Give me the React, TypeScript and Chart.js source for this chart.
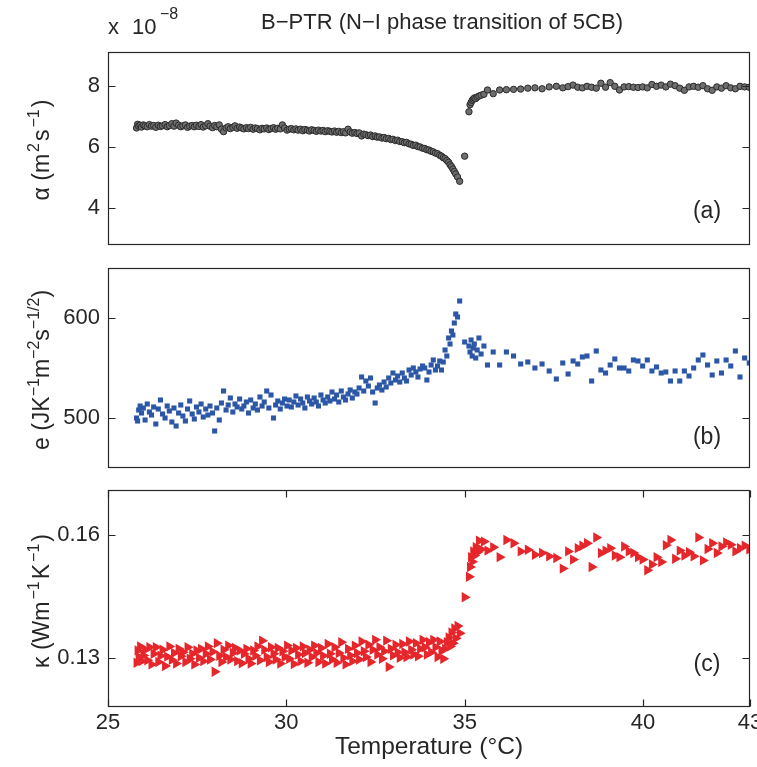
import React, { useEffect, useRef } from "react";
import { Chart, registerables } from "chart.js";
Chart.register(...registerables);

// ---------------- DATA ----------------
const T_NEM = [
  25.80, 25.83, 25.86, 25.90, 25.94, 25.99, 26.04, 26.10, 26.16, 26.22,
  26.28, 26.34, 26.41, 26.47, 26.53, 26.60, 26.66, 26.72, 26.79, 26.85,
  26.91, 26.98, 27.04, 27.10, 27.17, 27.23, 27.29, 27.36, 27.42, 27.48,
  27.55, 27.61, 27.67, 27.74, 27.80, 27.86, 27.93, 27.99, 28.05, 28.12,
  28.18, 28.24, 28.31, 28.37, 28.43, 28.50, 28.56, 28.62, 28.69, 28.75,
  28.81, 28.88, 28.94, 29.00, 29.07, 29.13, 29.19, 29.26, 29.32, 29.38,
  29.45, 29.51, 29.57, 29.64, 29.70, 29.76, 29.83, 29.89, 29.95, 30.02,
  30.08, 30.14, 30.21, 30.27, 30.33, 30.40, 30.46, 30.52, 30.59, 30.65,
  30.71, 30.78, 30.84, 30.90, 30.97, 31.03, 31.09, 31.16, 31.22, 31.28,
  31.35, 31.41, 31.47, 31.54, 31.60, 31.66, 31.73, 31.79, 31.85, 31.92,
  31.98, 32.04, 32.11, 32.17, 32.23, 32.30, 32.36, 32.42, 32.49, 32.55,
  32.61, 32.68, 32.74, 32.80, 32.87, 32.93, 32.99, 33.06, 33.12, 33.18,
  33.25, 33.31, 33.37, 33.44, 33.50, 33.56, 33.63, 33.69, 33.75, 33.82,
  33.88, 33.94, 34.00, 34.06, 34.12, 34.18, 34.24, 34.30, 34.35, 34.40,
  34.45, 34.50, 34.55, 34.59, 34.63, 34.67, 34.71, 34.75, 34.80, 34.86,
];
const T_ISO = [
  35.00, 35.12, 35.15, 35.18, 35.21, 35.24, 35.27, 35.31, 35.35, 35.40,
  35.46, 35.54, 35.64, 35.80, 35.98, 36.17, 36.37, 36.57, 36.77, 36.97,
  37.17, 37.37, 37.57, 37.75, 37.90, 38.04, 38.17, 38.30, 38.43, 38.56,
  38.69, 38.82, 38.95, 39.08, 39.21, 39.34, 39.47, 39.60, 39.73, 39.86,
  39.99, 40.12, 40.25, 40.38, 40.51, 40.64, 40.77, 40.90, 41.03, 41.16,
  41.29, 41.42, 41.55, 41.68, 41.81, 41.94, 42.07, 42.20, 42.33, 42.46,
  42.59, 42.72, 42.85, 42.98,
];

// thermal diffusivity alpha (x 1e-8 m^2 s^-1)
const ALPHA_NEM = [
  6.62, 6.74, 6.68, 6.71, 6.65, 6.72, 6.69, 6.66, 6.73, 6.68,
  6.70, 6.64, 6.71, 6.67, 6.69, 6.73, 6.66, 6.70, 6.76, 6.68,
  6.78, 6.71, 6.66, 6.69, 6.72, 6.64, 6.68, 6.70, 6.66, 6.71,
  6.67, 6.73, 6.65, 6.69, 6.76, 6.68, 6.63, 6.70, 6.66, 6.72,
  6.58, 6.50, 6.62, 6.66, 6.60, 6.64, 6.69, 6.61, 6.65, 6.62,
  6.59, 6.63, 6.60, 6.64, 6.58, 6.62, 6.60, 6.56, 6.61, 6.59,
  6.62, 6.57, 6.60, 6.63, 6.58, 6.61, 6.59, 6.72, 6.62, 6.55,
  6.58, 6.60, 6.56, 6.59, 6.55, 6.58, 6.53, 6.57, 6.55, 6.52,
  6.56, 6.54, 6.51, 6.55, 6.52, 6.54, 6.50, 6.53, 6.51, 6.49,
  6.52, 6.48, 6.51, 6.47, 6.50, 6.46, 6.58, 6.49, 6.45, 6.47,
  6.44, 6.46, 6.36, 6.42, 6.40, 6.37, 6.39, 6.34, 6.36, 6.32,
  6.33, 6.29, 6.31, 6.27, 6.28, 6.24, 6.25, 6.21, 6.22, 6.18,
  6.17, 6.14, 6.15, 6.10, 6.09, 6.05, 6.06, 6.01, 6.00, 5.96,
  5.95, 5.91, 5.90, 5.86, 5.84, 5.80, 5.78, 5.73, 5.70, 5.65,
  5.62, 5.56, 5.50, 5.42, 5.36, 5.28, 5.20, 5.12, 5.02, 4.88,
];
const ALPHA_ISO = [
  5.70, 7.15, 7.38, 7.45, 7.52, 7.56, 7.60, 7.58, 7.63, 7.66,
  7.69, 7.72, 7.86, 7.74, 7.86, 7.87, 7.88, 7.89, 7.92, 7.93,
  7.90, 7.96, 7.98, 7.93, 7.97, 8.02, 7.95, 7.93, 7.98, 7.95,
  7.92, 8.08, 7.95, 8.10, 7.98, 7.86, 7.96, 7.97, 7.95, 7.94,
  7.96, 7.93, 8.04, 7.98, 8.02, 7.96, 8.05, 8.00, 7.92, 7.85,
  7.96, 7.98, 7.95, 8.00, 7.90, 7.85, 7.96, 7.92, 8.00, 7.93,
  7.90, 7.98, 7.96, 7.95,
];

// thermal effusivity e (J K^-1 m^-2 s^-1/2)
const EFF_NEM = [
  500, 497, 508, 512, 505, 510, 498, 514, 506, 503,
  511, 494, 509, 518, 504, 500, 512, 507, 496, 510,
  492, 505, 513, 502, 497, 509, 517, 504, 499, 511,
  506, 514, 501, 509, 503, 512, 505, 487, 510, 498,
  515, 527, 508, 513, 520, 506, 514, 511, 519, 509,
  512, 516, 505, 518, 510, 514, 508, 521, 512, 516,
  527, 510, 523, 500, 513, 517, 509, 515, 519, 512,
  518, 511, 516, 522, 513, 519, 515, 510, 521, 517,
  514, 520, 516, 512, 523, 518, 515, 521, 517, 526,
  519, 523, 516, 527, 521, 518, 524, 528, 520, 526,
  524, 530, 541, 527, 537, 532, 540, 526, 515, 530,
  533, 528, 536, 531, 540, 535, 545, 538, 542, 536,
  545, 540, 537, 548, 543, 550, 546, 541, 549, 552,
  550, 538, 546, 553, 558, 548, 552, 557, 548, 556,
  568, 562, 580, 574, 587, 583, 595, 604, 601, 617,
];
const EFF_ISO = [
  576, 572, 566, 578, 562, 570, 574, 560, 568, 580,
  564, 572, 553, 566, 553, 566, 562, 554, 556, 550,
  554, 547, 539, 555, 544, 557, 554, 561, 562, 537,
  567, 548, 545, 553, 559, 550, 550, 547, 558, 557,
  552, 558, 547, 551, 545, 546, 537, 547, 537, 547,
  542, 550, 558, 563, 553, 543, 557, 545, 558, 552,
  567, 541, 560, 555,
];

// thermal conductivity kappa (W m^-1 K^-1)
const KAPPA_NEM = [
  0.1288, 0.1318, 0.1302, 0.1328, 0.1292, 0.1306, 0.1320, 0.1294, 0.1326, 0.1284,
  0.1310, 0.1326, 0.1290, 0.1305, 0.1320, 0.1280, 0.1303, 0.1328, 0.1295, 0.1312,
  0.1286, 0.1322, 0.1304, 0.1314, 0.1290, 0.1326, 0.1298, 0.1310, 0.1284, 0.1318,
  0.1300, 0.1322, 0.1292, 0.1310, 0.1328, 0.1296, 0.1315, 0.1266, 0.1336, 0.1305,
  0.1290, 0.1320, 0.1302, 0.1330, 0.1296, 0.1312, 0.1324, 0.1292, 0.1318, 0.1287,
  0.1310, 0.1322, 0.1298, 0.1286, 0.1318, 0.1305, 0.1328, 0.1294, 0.1342, 0.1320,
  0.1302, 0.1290, 0.1326, 0.1310, 0.1296, 0.1324, 0.1286, 0.1316, 0.1302, 0.1330,
  0.1298, 0.1318, 0.1285, 0.1324, 0.1308, 0.1292, 0.1328, 0.1312, 0.1288, 0.1320,
  0.1302, 0.1330, 0.1312, 0.1290, 0.1324, 0.1305, 0.1286, 0.1334, 0.1310, 0.1296,
  0.1326, 0.1288, 0.1312, 0.1338, 0.1300, 0.1284, 0.1322, 0.1306, 0.1292, 0.1330,
  0.1312, 0.1296, 0.1340, 0.1316, 0.1302, 0.1332, 0.1290, 0.1320, 0.1344, 0.1308,
  0.1326, 0.1298, 0.1316, 0.1342, 0.1278, 0.1322, 0.1306, 0.1332, 0.1314, 0.1300,
  0.1334, 0.1314, 0.1302, 0.1340, 0.1320, 0.1308, 0.1336, 0.1304, 0.1322, 0.1344,
  0.1326, 0.1308, 0.1338, 0.1314, 0.1344, 0.1326, 0.1302, 0.1340, 0.1318, 0.1298,
  0.1322, 0.1338, 0.1350, 0.1328, 0.1362, 0.1336, 0.1372, 0.1348, 0.1378, 0.1360,
];
const KAPPA_ISO = [
  0.1448, 0.1498, 0.1522, 0.1546, 0.1535, 0.1560, 0.1550, 0.1570, 0.1558, 0.1586,
  0.1565, 0.1584, 0.1562, 0.1570, 0.1546, 0.1588, 0.1580, 0.1560, 0.1564, 0.1552,
  0.1556, 0.1548, 0.1544, 0.1518, 0.1560, 0.1540, 0.1568, 0.1574, 0.1580, 0.1522,
  0.1594, 0.1556, 0.1562, 0.1568, 0.1550, 0.1546, 0.1572, 0.1560, 0.1556, 0.1546,
  0.1540, 0.1514, 0.1528, 0.1546, 0.1534, 0.1575, 0.1588, 0.1542, 0.1562, 0.1550,
  0.1558, 0.1548, 0.1594, 0.1538, 0.1566, 0.1580, 0.1556, 0.1572, 0.1582, 0.1576,
  0.1560, 0.1568, 0.1574, 0.1565,
];

const X_TICKS = [25, 30, 35, 40, 43];
const ALPHA_TICKS = [4, 6, 8];
const EFF_TICKS = [500, 600];
const KAPPA_TICKS = [0.13, 0.16];

const TITLE = "B\u2212PTR (N\u2212I phase transition of 5CB)";
const X_TITLE = "Temperature (\u00B0C)";

// ---------------- HELPERS ----------------
const FONT = "'Liberation Sans', Arial, Helvetica, sans-serif";
const INK = "#262626";
const TICK_SIZE = 22;
const LABEL_SIZE = 23;
const SUP_SIZE = 16;

type Seg = [string, boolean];

function toPoints(t1: number[], v1: number[], t2: number[], v2: number[]) {
  const pts: { x: number; y: number }[] = [];
  t1.forEach((t, i) => pts.push({ x: t, y: v1[i] }));
  t2.forEach((t, i) => pts.push({ x: t, y: v2[i] }));
  return pts;
}

// rotated axis label with real superscripts; x = baseline position on screen
function drawRotated(ctx: CanvasRenderingContext2D, segs: Seg[], x: number, y: number, gap: number) {
  ctx.save();
  ctx.translate(x, y);
  ctx.rotate(-Math.PI / 2);
  ctx.fillStyle = INK;
  ctx.textBaseline = "alphabetic";
  ctx.textAlign = "left";
  let total = 0;
  for (const [s, sup] of segs) {
    ctx.font = `${sup ? SUP_SIZE : LABEL_SIZE}px ${FONT}`;
    total += ctx.measureText(s).width + gap;
  }
  total -= gap;
  let cx = -total / 2;
  for (const [s, sup] of segs) {
    ctx.font = `${sup ? SUP_SIZE : LABEL_SIZE}px ${FONT}`;
    ctx.fillText(s, cx, sup ? -LABEL_SIZE * 0.45 : 0);
    cx += ctx.measureText(s).width + gap;
  }
  ctx.restore();
}

function framePlugin(opts: { label: string; labelY: number; yTitle: Seg[]; yTitleY: number; gap: number; xTicks: boolean; extra?: (ctx: CanvasRenderingContext2D) => void }) {
  return {
    id: "frame_" + opts.label,
    afterDraw(chart: any) {
      const { ctx, chartArea, scales } = chart;
      const { left, right, top, bottom } = chartArea;
      ctx.save();
      ctx.strokeStyle = INK;
      ctx.lineWidth = 1.2;
      const L = Math.round(left) + 0.5, R = Math.round(right) - 0.5;
      const T = Math.round(top) + 0.5, B = Math.round(bottom) - 0.5;
      ctx.strokeRect(L, T, R - L, B - T);
      const tl = 7;
      ctx.beginPath();
      for (const t of scales.y.ticks) {
        const py = Math.round(scales.y.getPixelForValue(t.value)) + 0.5;
        ctx.moveTo(L, py); ctx.lineTo(L + tl, py);
        ctx.moveTo(R, py); ctx.lineTo(R - tl, py);
      }
      if (opts.xTicks) {
        for (const t of scales.x.ticks) {
          const px = Math.round(scales.x.getPixelForValue(t.value)) + 0.5;
          ctx.moveTo(px, B); ctx.lineTo(px, B - tl);
          ctx.moveTo(px, T); ctx.lineTo(px, T + tl);
        }
      }
      ctx.stroke();
      ctx.fillStyle = INK;
      ctx.font = `${LABEL_SIZE}px ${FONT}`;
      ctx.textAlign = "center";
      ctx.textBaseline = "middle";
      ctx.fillText(opts.label, 707, opts.labelY);
      ctx.restore();
      drawRotated(ctx, opts.yTitle, 49, opts.yTitleY, opts.gap);
      if (opts.extra) opts.extra(ctx);
    },
  };
}

function makeConfig(p: {
  data: { x: number; y: number }[];
  style: any;
  yMin: number; yMax: number; yTicks: number[];
  showX: boolean; padTop: number; padBottom: number;
  plugin: any;
}) {
  const tickFont = { family: FONT, size: TICK_SIZE };
  return {
    type: "scatter",
    data: {
      datasets: [{ data: p.data, showLine: false, ...p.style }],
    },
    options: {
      animation: false,
      responsive: false,
      events: [],
      layout: { padding: { left: 0, right: 7, top: p.padTop, bottom: p.padBottom } },
      plugins: { legend: { display: false }, tooltip: { enabled: false }, title: { display: false } },
      scales: {
        x: {
          type: "linear",
          min: 25,
          max: 43,
          display: p.showX,
          grid: { display: false, drawTicks: false },
          border: { display: false },
          afterBuildTicks: (s: any) => { s.ticks = X_TICKS.map((v) => ({ value: v })); },
          ticks: { font: tickFont, color: INK, padding: 3, autoSkip: false, maxRotation: 0, callback: (v: any) => String(v) },
          title: { display: p.showX, text: X_TITLE, color: INK, font: { family: FONT, size: 24.5 }, padding: { top: 0, bottom: 5 } },
          afterFit: (s: any) => { s.height = p.showX ? 60 : 0; s.paddingLeft = 0; s.paddingRight = 0; },
        },
        y: {
          type: "linear",
          min: p.yMin,
          max: p.yMax,
          grid: { display: false, drawTicks: false },
          border: { display: false },
          afterBuildTicks: (s: any) => { s.ticks = p.yTicks.map((v) => ({ value: v })); },
          ticks: { font: tickFont, color: INK, padding: 8, callback: (v: any) => String(v) },
          afterFit: (s: any) => { s.width = 108; s.paddingTop = 0; s.paddingBottom = 0; },
        },
      },
    },
    plugins: [p.plugin],
  };
}

export default function App() {
  const r1 = useRef<HTMLCanvasElement>(null);
  const r2 = useRef<HTMLCanvasElement>(null);
  const r3 = useRef<HTMLCanvasElement>(null);

  useEffect(() => {
    const cA = new Chart(r1.current as any, makeConfig({
      data: toPoints(T_NEM, ALPHA_NEM, T_ISO, ALPHA_ISO),
      style: { pointStyle: "circle", pointRadius: 3.2, pointBackgroundColor: "#6e6e6e", pointBorderColor: "#2a2a2a", pointBorderWidth: 1 },
      yMin: 2.8, yMax: 9.1, yTicks: ALPHA_TICKS,
      showX: false, padTop: 52, padBottom: 5,
      plugin: framePlugin({
        label: "(a)", labelY: 212, yTitleY: 150, gap: 2,
        yTitle: [["\u03B1 (m", false], ["2", true], ["s", false], ["\u22121", true], [")", false]],
        xTicks: false,
        extra: (ctx) => {
          ctx.save();
          ctx.fillStyle = INK;
          ctx.font = `22px ${FONT}`;
          ctx.textAlign = "center";
          ctx.textBaseline = "alphabetic";
          ctx.fillText(TITLE, 442, 29);
          ctx.textAlign = "left";
          ctx.fillText("x", 108, 34);
          ctx.fillText("10", 132, 34);
          ctx.font = `16px ${FONT}`;
          ctx.fillText("\u22128", 160, 19);
          ctx.restore();
        },
      }),
    }) as any);
    const cB = new Chart(r2.current as any, makeConfig({
      data: toPoints(T_NEM, EFF_NEM, T_ISO, EFF_ISO),
      style: { pointStyle: "rect", pointRadius: 3.6, pointBackgroundColor: "#2b57a6", pointBorderColor: "#2b57a6", pointBorderWidth: 0 },
      yMin: 450, yMax: 650, yTicks: EFF_TICKS,
      showX: false, padTop: 18, padBottom: 7,
      plugin: framePlugin({
        label: "(b)", labelY: 438 - 250, yTitleY: 370 - 250, gap: 0,
        yTitle: [["e (JK", false], ["\u22121", true], ["m", false], ["\u22122", true], ["s", false], ["\u22121/2", true], [")", false]],
        xTicks: false,
      }),
    }) as any);
    const cC = new Chart(r3.current as any, makeConfig({
      data: toPoints(T_NEM, KAPPA_NEM, T_ISO, KAPPA_ISO),
      style: { pointStyle: "triangle", pointRotation: 90, pointRadius: 6, pointBackgroundColor: "#e5262b", pointBorderColor: "#e5262b", pointBorderWidth: 0 },
      yMin: 0.118, yMax: 0.171, yTicks: KAPPA_TICKS,
      showX: true, padTop: 15, padBottom: 0,
      plugin: framePlugin({
        label: "(c)", labelY: 665 - 475, yTitleY: 601 - 475, gap: 2,
        yTitle: [["\u03BA (Wm", false], ["\u22121", true], ["K", false], ["\u22121", true], [")", false]],
        xTicks: true,
      }),
    }) as any);
    return () => { cA.destroy(); cB.destroy(); cC.destroy(); };
  }, []);

  return (
    <div style={{ position: "absolute", left: 0, top: 0, width: 757, height: 767, background: "#fff" }}>
      <canvas ref={r1} width={757} height={250} style={{ position: "absolute", left: 0, top: 0 }} />
      <canvas ref={r2} width={757} height={225} style={{ position: "absolute", left: 0, top: 250 }} />
      <canvas ref={r3} width={757} height={292} style={{ position: "absolute", left: 0, top: 475 }} />
    </div>
  );
}
